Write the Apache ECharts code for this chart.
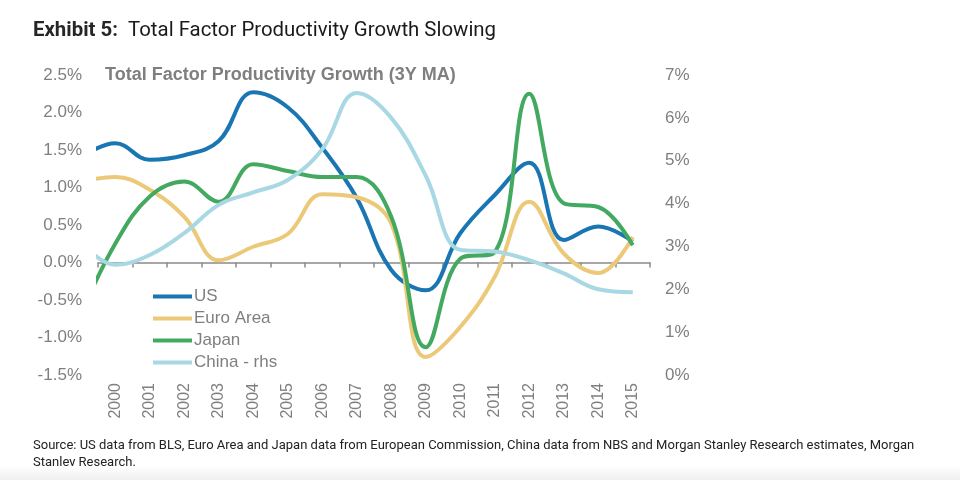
<!DOCTYPE html>
<html><head><meta charset="utf-8">
<script src="https://cdn.jsdelivr.net/npm/echarts@6/dist/echarts.min.js"></script>
<style>html,body{margin:0;padding:0;background:#fff}#c{width:960px;height:480px}</style>
</head><body><div id="c"></div>
<script>
// Category labels (x axis)
const categories = ['2000','2001','2002','2003','2004','2005','2006','2007','2008','2009','2010','2011','2012','2013','2014','2015'];
// Data years (1999 point lies left of the plot area and is clipped, as in the source chart)
const years = [1999,2000,2001,2002,2003,2004,2005,2006,2007,2008,2009,2010,2011,2012,2013,2014,2015];
// TFP growth, 3Y MA, % (left axis)
const usData    = [1.40, 1.59, 1.37, 1.43, 1.62, 2.27, 2.07, 1.53, 0.86, -0.10, -0.37, 0.39, 0.90, 1.33, 0.30, 0.48, 0.28];
const euroData  = [1.08, 1.14, 0.97, 0.61, 0.03, 0.21, 0.38, 0.91, 0.87, 0.52, -1.26, -0.86, -0.19, 0.81, 0.12, -0.14, 0.34];
const japanData = [-0.70, 0.25, 0.88, 1.08, 0.81, 1.31, 1.22, 1.14, 1.14, 0.61, -1.13, 0.05, 0.14, 2.25, 0.79, 0.74, 0.23];
// China, % (right axis)
const chinaData = [3.10, 2.57, 2.80, 3.31, 3.97, 4.26, 4.55, 5.27, 6.58, 6.00, 4.65, 2.92, 2.88, 2.68, 2.37, 2.00, 1.93];
// Axis tick settings
const leftTicks  = {min: -1.5, max: 2.5, interval: 0.5};
const rightTicks = {min: 0, max: 7, interval: 1};
const seriesNames = ['US', 'Euro Area', 'Japan', 'China - rhs'];
const colors = ['#1a75b3', '#ebc978', '#44a960', '#a7d8e3'];

const pairs = arr => years.map((y, i) => [y, arr[i]]);
const FONT = 'Liberation Sans, Arial, sans-serif';
const GRAY = '#7f7f7f';

const chart = echarts.init(document.getElementById('c'), null, {renderer: 'canvas'});
const mkSeries = (name, arr, yIdx, color) => ({
  name, type: 'line', xAxisIndex: 2, yAxisIndex: yIdx, data: pairs(arr),
  smooth: 0.4, showSymbol: false, symbol: 'none', clip: true,
  lineStyle: {width: 4, color}, itemStyle: {color}
});

chart.setOption({
  animation: false,
  backgroundColor: '#fff',
  title: {
    left: 33, top: 21, padding: 0,
    text: '{b|Exhibit 5:}  Total Factor Productivity Growth Slowing',
    textStyle: {
      fontFamily: 'Roboto, sans-serif', fontSize: 20.4, fontWeight: 'normal', color: '#1a1a1a',
      rich: {b: {fontFamily: 'Roboto, sans-serif', fontSize: 20.4, fontWeight: 'bold', color: '#262626'}}
    }
  },
  grid: {left: 98, right: 310, top: 75, bottom: 105, containLabel: false},
  legend: {
    data: seriesNames, orient: 'vertical', left: 153, top: 288, padding: 0,
    icon: 'rect', itemWidth: 39, itemHeight: 4, itemGap: 5,
    textStyle: {fontFamily: FONT, fontSize: 17, color: GRAY, lineHeight: 17, padding: [0, 0, 0, -3]}
  },
  xAxis: [
    {type: 'category', data: categories, position: 'bottom', boundaryGap: true,
     axisLine: {show: false, onZero: false}, axisTick: {show: false},
     axisLabel: {rotate: 90, interval: 0, margin: 8, fontSize: 16, color: GRAY, fontFamily: FONT}},
    {type: 'category', data: categories, position: 'bottom', boundaryGap: true,
     axisLine: {show: true, onZero: true, onZeroAxisIndex: 0, lineStyle: {color: '#8a8a8a', width: 1.5}},
     axisTick: {show: true, interval: 0, length: 5, lineStyle: {color: '#8a8a8a', width: 1.5}},
     axisLabel: {show: false}},
    {type: 'value', min: 1999.5, max: 2015.5, show: false}
  ],
  yAxis: [
    {type: 'value', position: 'left', min: leftTicks.min, max: leftTicks.max, interval: leftTicks.interval,
     splitLine: {show: false}, axisLine: {show: false}, axisTick: {show: false},
     axisLabel: {formatter: v => v.toFixed(1) + '%', fontSize: 17, color: GRAY, fontFamily: FONT, margin: 16}},
    {type: 'value', position: 'right', min: rightTicks.min, max: rightTicks.max, interval: rightTicks.interval,
     splitLine: {show: false}, axisLine: {show: false}, axisTick: {show: false},
     axisLabel: {formatter: v => v + '%', fontSize: 17, color: GRAY, fontFamily: FONT, margin: 15}}
  ],
  graphic: [
    {type: 'text', left: 105, top: 66, style: {text: 'Total Factor Productivity Growth (3Y MA)', font: 'bold 18px Liberation Sans, Arial, sans-serif', fill: GRAY}},
    {type: 'text', left: 33, top: 437, style: {
      text: 'Source: US data from BLS, Euro Area and Japan data from European Commission, China data from NBS and Morgan Stanley Research estimates, Morgan\nStanley Research.',
      font: '13px Liberation Sans Narrow, Roboto, sans-serif', fill: '#222', lineHeight: 17}},
    {type: 'rect', left: 0, top: 466, shape: {width: 960, height: 14}, silent: true,
     style: {fill: new echarts.graphic.LinearGradient(0, 0, 0, 1, [{offset: 0, color: '#ffffff'}, {offset: 1, color: '#efefef'}])}}
  ],
  series: [
    mkSeries(seriesNames[0], usData, 0, colors[0]),
    mkSeries(seriesNames[1], euroData, 0, colors[1]),
    mkSeries(seriesNames[2], japanData, 0, colors[2]),
    mkSeries(seriesNames[3], chinaData, 1, colors[3])
  ]
});
</script></body></html>
